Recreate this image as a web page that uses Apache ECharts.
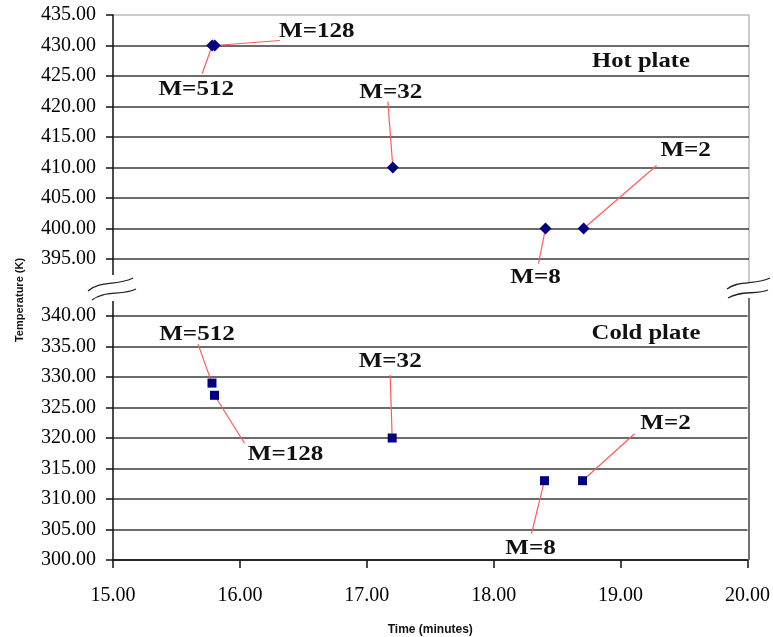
<!DOCTYPE html>
<html>
<head>
<meta charset="utf-8">
<script src="https://cdn.jsdelivr.net/npm/echarts@6/dist/echarts.min.js"></script>
<style>html,body{margin:0;padding:0;background:#fff}#c{width:773px;height:637px}</style>
</head>
<body>
<div id="c"></div>
<script>
// ---- data ----
const labelsM = ['M=512', 'M=128', 'M=32', 'M=8', 'M=2'];
const timeHot = [15.78, 15.80, 17.20, 18.40, 18.70];
const tempHot = [430, 430, 410, 400, 400];
const timeCold = [15.78, 15.80, 17.20, 18.40, 18.70];
const tempCold = [329, 327, 320, 313, 313];
const xMin = 15, xMax = 20, xStep = 1;
const hotMin = 395, hotMax = 435;
const coldMin = 300, coldMax = 340;
const yStep = 5;

// ---- annotation placement, relative to each point (px): [labelDx, labelDy, lineEndDx, lineEndDy] ----
const hotNotes = [[-16, 44, -10, 28], [102, -14, 65, -5], [-2, -75, -5, -66], [-10, 49, -7, 35], [102, -78, 73, -63]];
const coldNotes = [[-15, -49, -14, -39], [71, 59, 30, 48], [-2, -77, -2, -63], [-14, 68, -13, 53], [83, -57, 52, -47]];

// ---- layout ----
const L = 113, W = 636, T1 = 15, H = 244, T2 = 316;
const serif = '"Liberation Serif", "Times New Roman", serif';
const sans = '"Liberation Sans", Arial, sans-serif';
const ink = '#111';

const chart = echarts.init(document.getElementById('c'));

function yAxis(grid, min, max, splitColors) {
  return {
    type: 'value', gridIndex: grid, min: min, max: max, interval: yStep,
    axisLine: { show: true, lineStyle: { color: ink, width: 1.5 } },
    axisTick: { show: true, length: 7, lineStyle: { color: ink, width: 1.5 } },
    axisLabel: { formatter: v => v.toFixed(2), fontFamily: serif, fontSize: 20, color: '#000', margin: 17 },
    splitLine: { show: true, lineStyle: { color: splitColors, width: 1.5 } }
  };
}

const darkG = '#3a3a3a';
const hotSplit = [darkG, darkG, darkG, darkG, darkG, darkG, darkG, darkG, '#bbbbbb'];
const coldSplit = [darkG];

const staticGraphic = [
  // right borders
  { type: 'line', shape: { x1: L + W, y1: T1, x2: L + W, y2: 283 }, style: { stroke: '#bbbbbb', lineWidth: 1.5 } },
  { type: 'line', shape: { x1: L + W, y1: 298, x2: L + W, y2: T2 + H }, style: { stroke: '#444', lineWidth: 1.5 } },
  // left axis extensions
  { type: 'line', shape: { x1: L, y1: T1 + H, x2: L, y2: 275 }, style: { stroke: ink, lineWidth: 1.5 } },
  { type: 'line', shape: { x1: L, y1: 301, x2: L, y2: T2 }, style: { stroke: ink, lineWidth: 1.5 } },
  // break marks left
  { type: 'bezierCurve', shape: { x1: 88, y1: 291, cpx1: 100, cpy1: 280, cpx2: 118, cpy2: 286, x2: 133, y2: 278 }, style: { stroke: '#222', lineWidth: 1.3, fill: null } },
  { type: 'bezierCurve', shape: { x1: 92, y1: 300, cpx1: 104, cpy1: 290, cpx2: 122, cpy2: 296, x2: 136, y2: 289 }, style: { stroke: '#222', lineWidth: 1.3, fill: null } },
  // break marks right
  { type: 'bezierCurve', shape: { x1: 727, y1: 289, cpx1: 738, cpy1: 280, cpx2: 756, cpy2: 285, x2: 770, y2: 278 }, style: { stroke: '#222', lineWidth: 1.3, fill: null } },
  { type: 'bezierCurve', shape: { x1: 728, y1: 298, cpx1: 740, cpy1: 290, cpx2: 756, cpy2: 295, x2: 768, y2: 290 }, style: { stroke: '#222', lineWidth: 1.3, fill: null } },
  // panel titles
  { type: 'text', x: 641, y: 61, scaleX: 1.12, style: { text: 'Hot plate', font: 'bold 22px ' + serif, fill: ink, textAlign: 'center', textVerticalAlign: 'middle' } },
  { type: 'text', x: 646, y: 333, scaleX: 1.12, style: { text: 'Cold plate', font: 'bold 22px ' + serif, fill: ink, textAlign: 'center', textVerticalAlign: 'middle' } },
  // y axis title
  { type: 'text', x: 20, y: 300, rotation: Math.PI / 2, style: { text: 'Temperature (K)', font: 'bold 11px ' + sans, fill: ink, textAlign: 'center', textVerticalAlign: 'middle' } }
];

const option = {
  animation: false,
  backgroundColor: '#fff',
  grid: [
    { left: L, width: W, top: T1, height: H },
    { left: L, width: W, top: T2, height: H }
  ],
  xAxis: [
    { type: 'value', gridIndex: 0, min: xMin, max: xMax, interval: xStep,
      axisLine: { show: false }, axisTick: { show: false }, axisLabel: { show: false }, splitLine: { show: false } },
    { type: 'value', gridIndex: 1, min: xMin, max: xMax, interval: xStep,
      axisLine: { show: true, lineStyle: { color: ink, width: 1.5 } },
      axisTick: { show: true, length: 8, lineStyle: { color: ink, width: 1.5 } },
      axisLabel: { formatter: v => v.toFixed(2), fontFamily: serif, fontSize: 20, color: '#000', margin: 26 },
      splitLine: { show: false },
      name: 'Time (minutes)', nameLocation: 'middle', nameGap: 64,
      nameTextStyle: { fontFamily: sans, fontWeight: 'bold', fontSize: 12, color: ink } }
  ],
  yAxis: [
    yAxis(0, hotMin, hotMax, hotSplit),
    yAxis(1, coldMin, coldMax, coldSplit)
  ],
  series: [
    {
      type: 'scatter', name: 'Hot plate', xAxisIndex: 0, yAxisIndex: 0, z: 5,
      symbol: 'diamond', symbolSize: 12,
      itemStyle: { color: '#000080', opacity: 1 },
      data: timeHot.map((x, i) => [x, tempHot[i]])
    },
    {
      type: 'scatter', name: 'Cold plate', xAxisIndex: 1, yAxisIndex: 1, z: 5,
      symbol: 'rect', symbolSize: 9,
      itemStyle: { color: '#000080', opacity: 1 },
      data: timeCold.map((x, i) => [x, tempCold[i]])
    }
  ],
  graphic: staticGraphic
};
chart.setOption(option);

// annotations: leader lines and labels anchored at data points via the chart's own scales
function notes(seriesIndex, xs, ys, place) {
  const out = [];
  xs.forEach((x, i) => {
    const p = chart.convertToPixel({ seriesIndex: seriesIndex }, [x, ys[i]]);
    const n = place[i];
    out.push({ type: 'line', z: 4, shape: { x1: p[0], y1: p[1], x2: p[0] + n[2], y2: p[1] + n[3] },
      style: { stroke: '#ff5a5a', lineWidth: 1.2 } });
    out.push({ type: 'text', z: 6, x: p[0] + n[0], y: p[1] + n[1], scaleX: 1.14,
      style: { text: labelsM[i], font: 'bold 22px ' + serif, fill: ink, textAlign: 'center', textVerticalAlign: 'middle' } });
  });
  return out;
}
chart.setOption({
  graphic: staticGraphic.concat(notes(0, timeHot, tempHot, hotNotes), notes(1, timeCold, tempCold, coldNotes))
});
</script>
</body>
</html>
